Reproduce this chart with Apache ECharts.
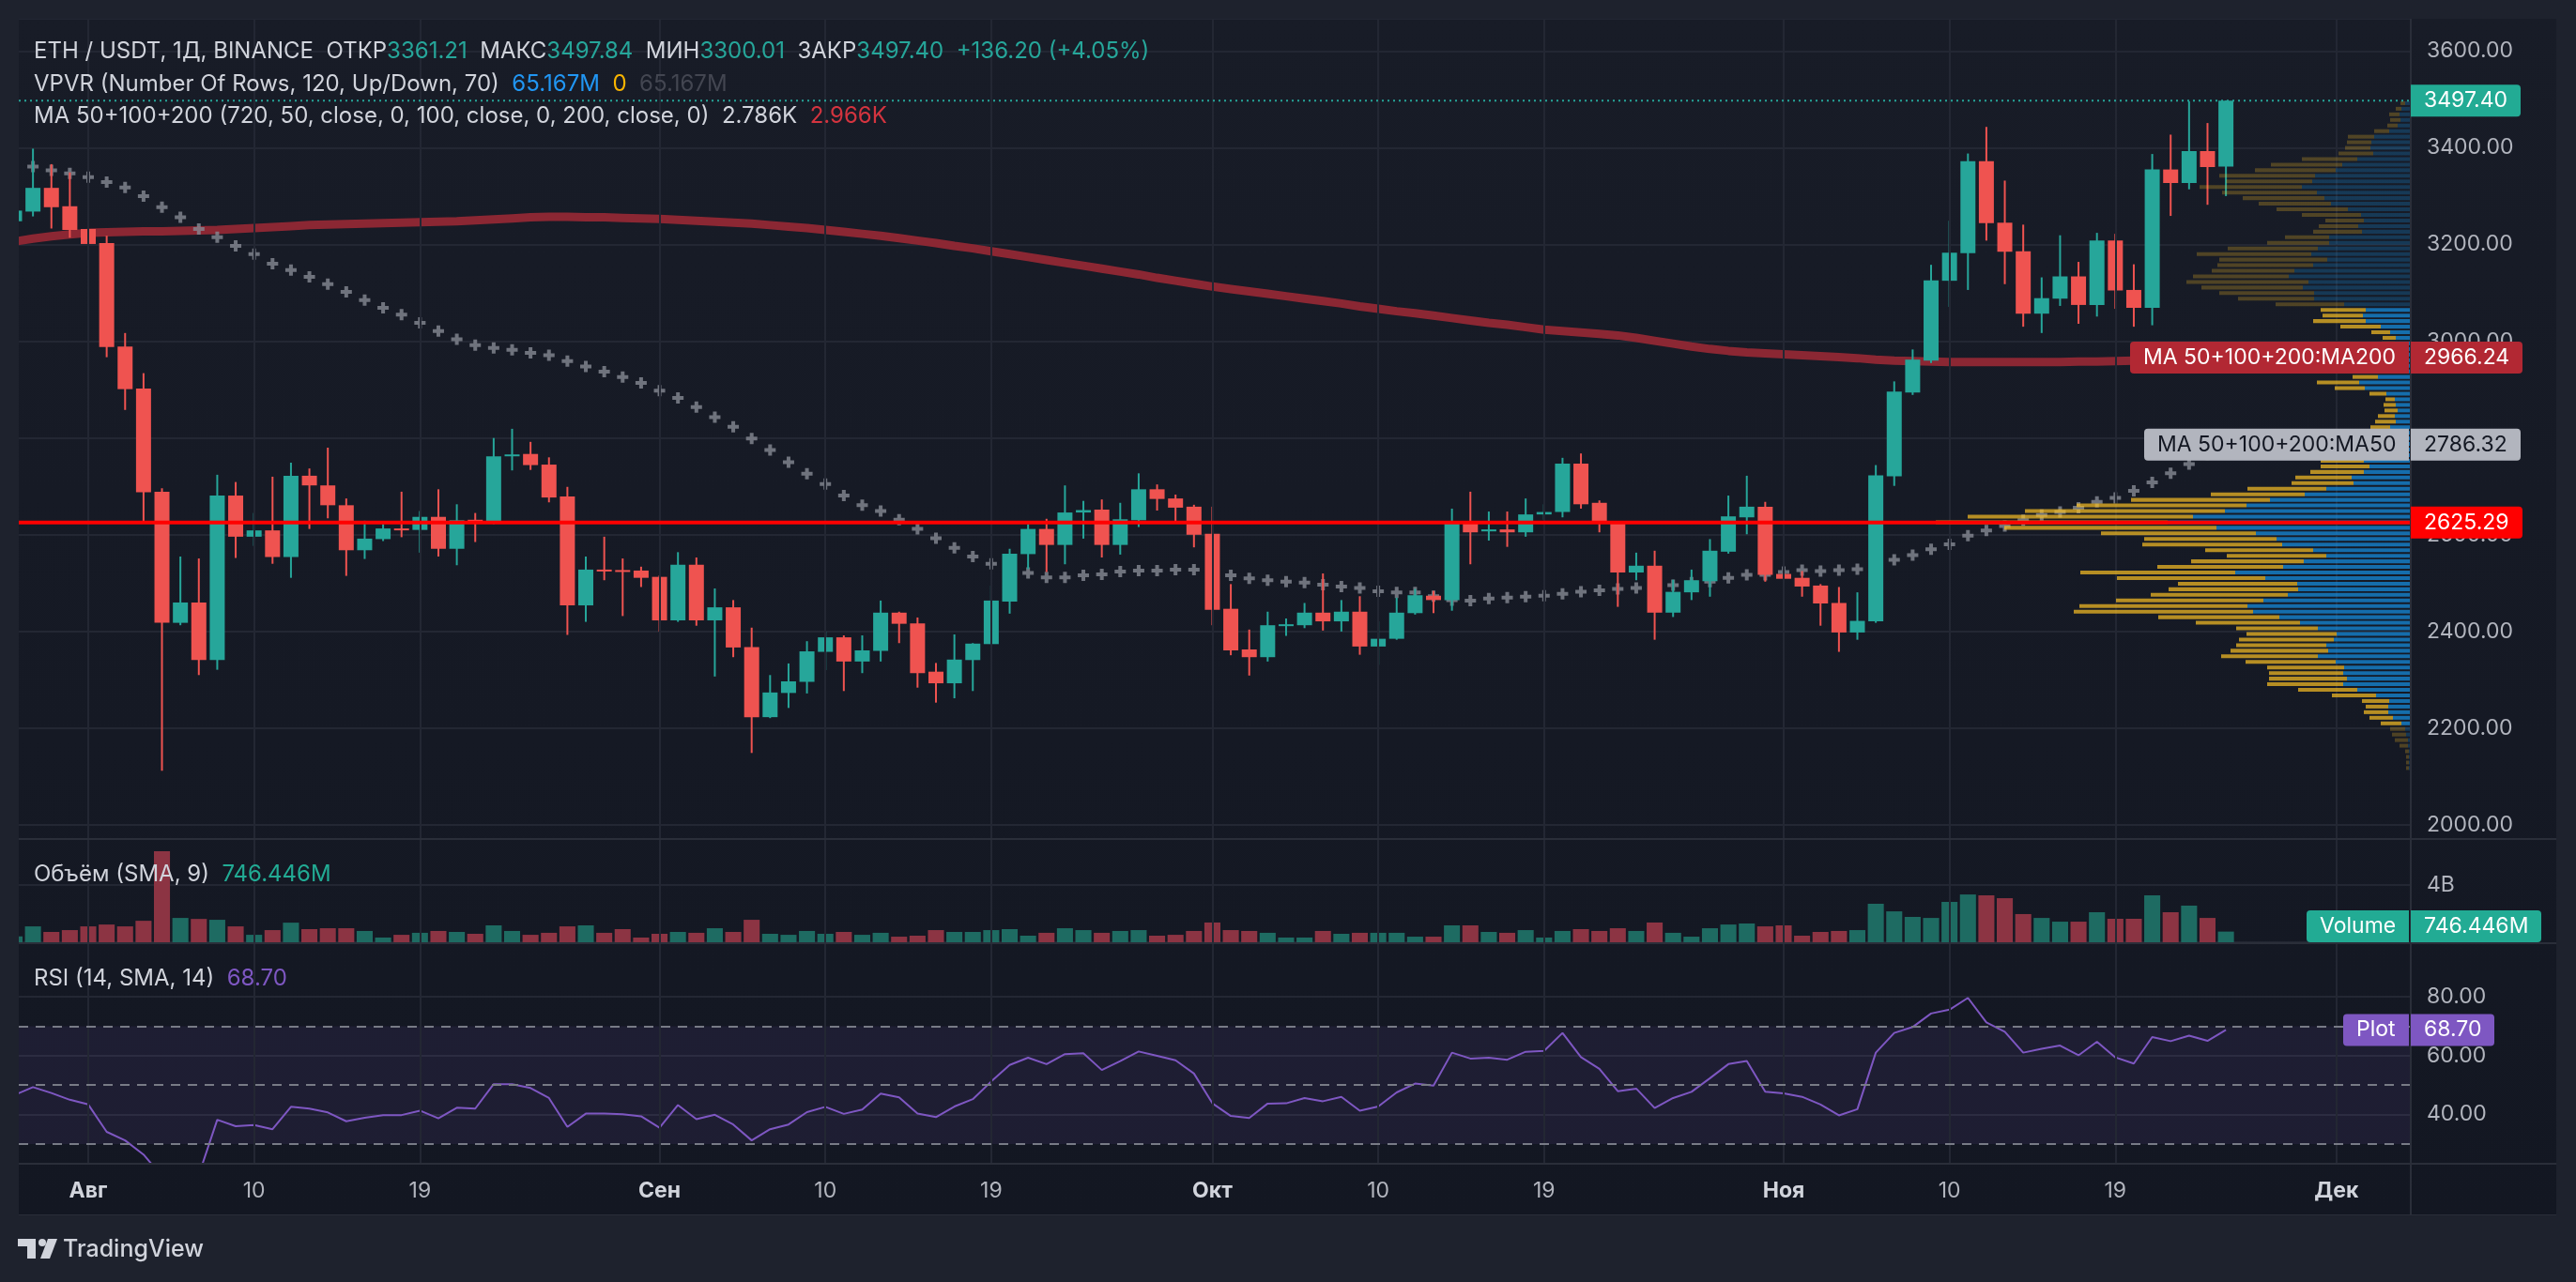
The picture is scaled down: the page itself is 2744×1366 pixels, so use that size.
<!DOCTYPE html>
<html lang="ru">
<head>
  <meta charset="UTF-8">
  <title>ETH / USDT, 1Д, BINANCE</title>
  <script src="https://cdn.jsdelivr.net/npm/echarts@6/dist/echarts.min.js"></script>
  <style>
    * { margin: 0; padding: 0; }
    html, body { width: 2744px; height: 1366px; background: #1e222d; overflow: hidden; }
    #chart { width: 2744px; height: 1366px; }
  </style>
</head>
<body>
<div id="chart"></div>
<script>
  // дни (2024), по одной свече на день
  var dates = [
    '07-28','07-29','07-30','07-31',
    '08-01','08-02','08-03','08-04','08-05','08-06','08-07','08-08','08-09','08-10',
    '08-11','08-12','08-13','08-14','08-15','08-16','08-17','08-18','08-19','08-20',
    '08-21','08-22','08-23','08-24','08-25','08-26','08-27','08-28','08-29','08-30','08-31',
    '09-01','09-02','09-03','09-04','09-05','09-06','09-07','09-08','09-09','09-10',
    '09-11','09-12','09-13','09-14','09-15','09-16','09-17','09-18','09-19','09-20',
    '09-21','09-22','09-23','09-24','09-25','09-26','09-27','09-28','09-29','09-30',
    '10-01','10-02','10-03','10-04','10-05','10-06','10-07','10-08','10-09','10-10',
    '10-11','10-12','10-13','10-14','10-15','10-16','10-17','10-18','10-19','10-20',
    '10-21','10-22','10-23','10-24','10-25','10-26','10-27','10-28','10-29','10-30','10-31',
    '11-01','11-02','11-03','11-04','11-05','11-06','11-07','11-08','11-09','11-10',
    '11-11','11-12','11-13','11-14','11-15','11-16','11-17','11-18','11-19','11-20',
    '11-21','11-22','11-23','11-24','11-25'
  ];
  var opens = [
    3248, 3268, 3317, 3279,
    3232, 3203, 2989, 2902, 2689, 2418, 2460, 2341, 2681, 2596,
    2609, 2554, 2722, 2702, 2661, 2568, 2591, 2613, 2610, 2637,
    2571, 2631, 2628, 2763, 2767, 2745, 2679, 2454, 2528, 2527, 2526,
    2513, 2423, 2538, 2423, 2450, 2368, 2223, 2273, 2296, 2358,
    2388, 2338, 2360, 2439, 2417, 2317, 2293, 2341, 2374, 2462,
    2560, 2612, 2579, 2646, 2652, 2579, 2630, 2694, 2675, 2658,
    2602, 2447, 2363, 2347, 2412, 2413, 2439, 2421, 2441, 2369,
    2385, 2438, 2474, 2465, 2623, 2607, 2611, 2605, 2642, 2647,
    2747, 2666, 2623, 2522, 2536, 2439, 2481, 2504, 2565, 2636, 2658,
    2519, 2511, 2495, 2459, 2398, 2421, 2721, 2894, 2960, 3125,
    3182, 3372, 3245, 3186, 3057, 3088, 3134, 3075, 3208, 3106,
    3069, 3355, 3327, 3393, 3361.21
  ];
  var highs = [
    3285, 3398, 3366, 3349,
    3242, 3218, 3017, 2934, 2696, 2555, 2551, 2724, 2709, 2645,
    2720, 2749, 2737, 2780, 2675, 2629, 2622, 2689, 2649, 2694,
    2663, 2645, 2800, 2819, 2792, 2760, 2699, 2555, 2596, 2551, 2534,
    2516, 2564, 2553, 2489, 2465, 2408, 2310, 2334, 2380, 2400,
    2392, 2392, 2464, 2441, 2429, 2335, 2394, 2376, 2495, 2571,
    2622, 2633, 2702, 2670, 2673, 2666, 2727, 2704, 2683, 2662,
    2658, 2498, 2404, 2441, 2427, 2459, 2520, 2465, 2473, 2421,
    2470, 2488, 2484, 2654, 2689, 2648, 2648, 2675, 2663, 2759,
    2768, 2671, 2626, 2563, 2567, 2507, 2528, 2591, 2681, 2722, 2668,
    2586, 2525, 2498, 2492, 2481, 2744, 2917, 2983, 3158, 3249,
    3388, 3443, 3332, 3241, 3132, 3219, 3164, 3224, 3222, 3159,
    3387, 3427, 3496, 3451, 3497.84
  ];
  var lows = [
    3190, 3258, 3233, 3214,
    3079, 2967, 2858, 2628, 2112, 2413, 2310, 2321, 2552, 2577,
    2540, 2511, 2612, 2634, 2515, 2550, 2587, 2595, 2563, 2555,
    2537, 2585, 2622, 2733, 2734, 2667, 2393, 2420, 2506, 2432, 2492,
    2400, 2420, 2412, 2307, 2347, 2149, 2221, 2242, 2272, 2320,
    2277, 2314, 2338, 2376, 2284, 2253, 2262, 2277, 2373, 2437,
    2529, 2523, 2539, 2592, 2553, 2559, 2616, 2650, 2628, 2574,
    2413, 2351, 2309, 2338, 2391, 2407, 2402, 2400, 2352, 2331,
    2383, 2435, 2438, 2443, 2539, 2588, 2575, 2596, 2631, 2636,
    2654, 2605, 2451, 2506, 2383, 2430, 2465, 2472, 2561, 2601, 2503,
    2469, 2472, 2412, 2358, 2383, 2418, 2701, 2889, 2955, 3071,
    3106, 3208, 3118, 3030, 3017, 3073, 3036, 3051, 3067, 3030,
    3033, 3259, 3314, 3282, 3300.01
  ];
  var closes = [
    3270, 3317, 3277, 3230,
    3201, 2988, 2901, 2688, 2418, 2460, 2341, 2681, 2596, 2609,
    2554, 2722, 2702, 2661, 2568, 2592, 2613, 2611, 2637, 2571,
    2630, 2628, 2762, 2766, 2744, 2677, 2454, 2528, 2525, 2526, 2511,
    2423, 2538, 2423, 2450, 2367, 2223, 2274, 2297, 2359, 2388,
    2338, 2361, 2439, 2416, 2314, 2293, 2342, 2375, 2464, 2561,
    2612, 2579, 2646, 2651, 2579, 2632, 2694, 2674, 2656, 2600,
    2445, 2361, 2347, 2413, 2415, 2439, 2421, 2441, 2369, 2385,
    2439, 2475, 2465, 2623, 2605, 2611, 2605, 2642, 2647, 2747,
    2663, 2623, 2522, 2536, 2439, 2482, 2506, 2567, 2638, 2658, 2517,
    2509, 2493, 2458, 2398, 2422, 2723, 2896, 2962, 3126, 3183,
    3372, 3244, 3185, 3057, 3089, 3134, 3075, 3208, 3105, 3069,
    3355, 3327, 3393, 3360, 3497.40
  ];
  // объём, млрд
  var volumes = [
    0.41, 1.11, 0.72, 0.85,
    1.11, 1.24, 1.11, 1.50, 6.36, 1.70, 1.63, 1.57, 1.11, 0.52,
    0.85, 1.37, 0.92, 0.98, 0.98, 0.79, 0.33, 0.52, 0.66, 0.79,
    0.72, 0.59, 1.18, 0.79, 0.52, 0.66, 1.11, 1.18, 0.66, 0.92, 0.33,
    0.59, 0.72, 0.66, 0.98, 0.72, 1.57, 0.59, 0.52, 0.79, 0.59,
    0.72, 0.52, 0.66, 0.39, 0.46, 0.85, 0.72, 0.72, 0.85, 0.92,
    0.46, 0.66, 0.98, 0.85, 0.66, 0.79, 0.85, 0.46, 0.52, 0.79,
    1.38, 0.85, 0.79, 0.66, 0.33, 0.33, 0.79, 0.59, 0.66, 0.66,
    0.66, 0.39, 0.39, 1.18, 1.18, 0.72, 0.66, 0.85, 0.33, 0.79,
    0.92, 0.79, 0.98, 0.79, 1.38, 0.66, 0.39, 0.98, 1.24, 1.31, 1.11,
    1.18, 0.46, 0.72, 0.79, 0.85, 2.69, 2.16, 1.77, 1.70, 2.82,
    3.34, 3.28, 3.08, 1.97, 1.70, 1.44, 1.44, 2.10, 1.64, 1.64,
    3.28, 2.10, 2.56, 1.70, 0.746446
  ];
  var rsi = [
    46.6, 49.3, 47.3, 45.0,
    43.4, 34.1, 31.2, 26.4, 19.0, 21.5, 19.5, 38.2, 36.0, 36.4,
    35.0, 42.6, 42.0, 40.7, 37.7, 38.9, 39.8, 39.8, 41.3, 38.7,
    42.3, 42.0, 50.3, 50.3, 49.0, 45.6, 35.8, 40.3, 40.3, 40.1, 39.4,
    35.5, 43.2, 38.4, 39.9, 36.6, 31.2, 35.0, 36.6, 40.8, 42.6,
    40.2, 41.7, 47.1, 45.8, 40.3, 39.1, 42.7, 45.2, 51.2, 56.8,
    59.3, 57.1, 60.5, 60.8, 55.1, 58.1, 61.4, 59.9, 58.4, 53.9,
    43.8, 39.5, 38.8, 43.7, 43.8, 45.6, 44.5, 46.0, 41.3, 42.7,
    47.5, 50.5, 49.8, 61.0, 59.0, 59.3, 58.6, 61.3, 61.6, 67.7,
    59.5, 55.5, 47.9, 48.8, 42.2, 45.6, 47.7, 52.3, 57.1, 58.2, 47.7,
    47.2, 46.0, 43.4, 39.7, 41.8, 61.0, 67.7, 69.7, 74.3, 75.6,
    79.6, 71.3, 68.1, 61.0, 62.3, 63.4, 60.1, 64.7, 59.4, 57.3,
    66.3, 64.9, 66.8, 65.0, 68.70
  ];
  var ma50 = [
    3370, 3361, 3353, 3347,
    3339, 3329, 3318, 3300, 3277, 3256, 3232, 3215, 3197, 3180,
    3160, 3147, 3133, 3118, 3102, 3085, 3069, 3055, 3038, 3021,
    3004, 2992, 2986, 2982, 2976, 2971, 2959, 2948, 2937, 2926, 2914,
    2898, 2883, 2864, 2843, 2823, 2799, 2775, 2750, 2726, 2705,
    2681, 2661, 2649, 2631, 2612, 2593, 2573, 2555, 2540, 2530,
    2521, 2512, 2512, 2516, 2518, 2524, 2526, 2526, 2528, 2528,
    2522, 2516, 2510, 2506, 2503, 2501, 2497, 2493, 2490, 2483,
    2481, 2481, 2473, 2465, 2464, 2468, 2470, 2472, 2474, 2478,
    2482, 2485, 2488, 2490, 2492, 2496, 2501, 2503, 2511, 2517, 2517,
    2523, 2527, 2525, 2527, 2529, 2539, 2548, 2558, 2570, 2580,
    2598, 2609, 2618, 2630, 2641, 2647, 2656, 2668, 2676, 2691,
    2708, 2727, 2746, 2766, 2786.32
  ];
  var ma200 = [
    3206, 3212, 3217, 3221,
    3224, 3225, 3226, 3227, 3227, 3228, 3229, 3230, 3232, 3234,
    3236, 3238, 3240, 3241, 3242, 3243, 3244, 3245, 3246, 3247,
    3248, 3250, 3252, 3254, 3256, 3257, 3257, 3256, 3256, 3255, 3254,
    3253, 3251, 3249, 3247, 3245, 3243, 3240, 3237, 3234, 3230,
    3226, 3222, 3218, 3213, 3208, 3203, 3197, 3192, 3186, 3180,
    3174, 3168, 3162, 3156, 3150, 3144, 3138, 3131, 3125, 3119,
    3113, 3108, 3103, 3098, 3093, 3088, 3083, 3078, 3072, 3067,
    3062, 3058, 3053, 3048, 3043, 3038, 3034, 3029, 3024, 3021,
    3018, 3015, 3012, 3007, 3001, 2995, 2989, 2984, 2980, 2977, 2975,
    2973, 2971, 2969, 2967, 2965, 2962, 2960, 2959, 2958, 2957,
    2957, 2957, 2957, 2957, 2957, 2957, 2958, 2958, 2959, 2960,
    2961, 2962, 2964, 2965, 2966.24
  ];
  // VPVR: 120 строк снизу вверх, жёлтая и синяя части
  var vpYellow = [
    3, 3, 3, 4, 9, 14, 15, 16, 22, 25,
    26, 24, 29, 47, 63, 81, 83, 79, 82, 96,
    103, 104, 96, 101, 96, 87, 111, 129, 191, 179,
    157, 146, 138, 127, 158, 165, 134, 120, 106, 115,
    149, 141, 165, 226, 247, 240, 213, 181, 148, 100,
    84, 66, 60, 57, 52, 46, 44, 40, 34, 30,
    25, 21, 22, 18, 14, 13, 10, 18, 32, 45,
    27, 20, 15, 12, 12, 12, 14, 14, 20, 43,
    56, 43, 48, 73, 81, 101, 108, 130, 102, 88,
    102, 115, 122, 96, 66, 47, 52, 42, 41, 63,
    76, 77, 87, 101, 109, 92, 102, 86, 76, 59,
    37, 27, 26, 28, 16, 11, 11, 11, 6, 5
  ];
  var vpBlue = [
    2, 2, 2, 2, 3, 3, 5, 6, 10, 19,
    24, 24, 23, 37, 57, 72, 68, 72, 71, 80,
    99, 88, 90, 82, 79, 99, 118, 140, 168, 174,
    157, 131, 120, 121, 155, 187, 136, 114, 90, 104,
    137, 143, 165, 207, 259, 232, 198, 175, 150, 113,
    90, 61, 63, 50, 44, 50, 46, 40, 36, 28,
    24, 22, 16, 17, 14, 16, 17, 26, 49, 55,
    35, 22, 15, 14, 13, 12, 17, 16, 22, 32,
    48, 51, 48, 71, 103, 103, 115, 109, 130, 124,
    104, 89, 106, 99, 87, 87, 52, 56, 50, 53,
    67, 85, 92, 100, 116, 105, 102, 80, 73, 57,
    40, 43, 42, 39, 23, 14, 11, 12, 10, 6
  ];
  var valueAreaRows = [8, 82];
  var pocPrice = 2625.29;

  var tickDates = ['08-01','08-10','08-19','09-01','09-10','09-19','10-01','10-10','10-19','11-01','11-10','11-19','12-01'];
  var tickText  = ['Авг','10','19','Сен','10','19','Окт','10','19','Ноя','10','19','Дек'];
  var monthTicks = ['Авг','Сен','Окт','Ноя','Дек'];

  var UP = '#26a69a', DOWN = '#ef5350';
  var VOL_UP = '#1e6b62', VOL_DOWN = '#8c3443';
  var GRID = '#232733', SEP = '#2a2e39';
  var TXT = '#d1d4dc', AXIS_TXT = '#b2b5be';
  var FONT = 'Inter, Roboto, sans-serif';
  var FS = 23;      // шкалы и плашки
  var LFS = 24;     // легенды

  // видимое окно (дни от 1 авг.) и цены
  var X_MIN = -3.77, X_MAX = 126.03;
  var Y_MIN = 1971.1, Y_MAX = 3666.5;

  function dayNum(s) {
    var p = s.split('-');
    return (Date.UTC(2024, +p[0] - 1, +p[1]) - Date.UTC(2024, 7, 1)) / 86400000;
  }
  var xs = dates.map(dayNum);
  var tickDays = tickDates.map(dayNum);
  var last = closes.length - 1;

  var vpLow = Math.min.apply(null, lows), vpHigh = Math.max.apply(null, highs);
  var vpStep = (vpHigh - vpLow) / vpYellow.length;

  var candleData = xs.map(function (x, i) { return [x, opens[i], closes[i], lows[i], highs[i]]; });
  var volData = xs.map(function (x, i) { return [x, volumes[i], closes[i] >= opens[i] ? 1 : 0]; });
  var rsiData = xs.map(function (x, i) { return [x, rsi[i]]; });
  var ma50Data = xs.map(function (x, i) { return [x, ma50[i]]; });
  var ma200Data = xs.map(function (x, i) { return [x, ma200[i]]; });
  var vpData = vpYellow.map(function (v, k) { return [k, v, vpBlue[k]]; });

  function renderCandle(params, api) {
    var x = api.value(0), o = api.value(1), c = api.value(2), l = api.value(3), h = api.value(4);
    var pO = api.coord([x, o]), pC = api.coord([x, c]);
    var pL = api.coord([x, l]), pH = api.coord([x, h]);
    var w = api.size([1, 0])[0] * 0.815;
    var color = c >= o ? UP : DOWN;
    var top = Math.min(pO[1], pC[1]), bot = Math.max(pO[1], pC[1]);
    return {
      type: 'group',
      children: [
        { type: 'rect', shape: { x: pO[0] - 1, y: pH[1], width: 2, height: pL[1] - pH[1] }, style: { fill: color } },
        { type: 'rect', shape: { x: pO[0] - w / 2, y: top, width: w, height: Math.max(bot - top, 2) }, style: { fill: color } }
      ]
    };
  }

  function renderVol(params, api) {
    var x = api.value(0), v = api.value(1), up = api.value(2);
    var p0 = api.coord([x, 0]), p1 = api.coord([x, v]);
    var w = api.size([1, 0])[0] * 0.87;
    return { type: 'rect', shape: { x: p0[0] - w / 2, y: p1[1], width: w, height: p0[1] - p1[1] },
             style: { fill: up ? VOL_UP : VOL_DOWN } };
  }

  function renderProfile(params, api) {
    var k = api.value(0), yel = api.value(1), blu = api.value(2);
    var lo = vpLow + k * vpStep;
    var pLo = api.coord([0, lo]), pHi = api.coord([0, lo + vpStep]);
    var h = (pLo[1] - pHi[1]) * 0.68;
    var yc = (pLo[1] + pHi[1]) / 2;
    var x0 = pLo[0];
    var xb = api.coord([blu, lo])[0];
    var xy = api.coord([blu + yel, lo])[0];
    var bright = k >= valueAreaRows[0] && k <= valueAreaRows[1];
    return {
      type: 'group',
      children: [
        { type: 'rect', shape: { x: xb, y: yc - h / 2, width: x0 - xb, height: h },
          style: { fill: bright ? 'rgba(21,146,230,0.7)' : 'rgba(21,146,230,0.25)' } },
        { type: 'rect', shape: { x: xy, y: yc - h / 2, width: xb - xy, height: h },
          style: { fill: bright ? 'rgba(251,193,35,0.7)' : 'rgba(251,193,35,0.25)' } }
      ]
    };
  }

  function vLines() {
    return {
      silent: true, symbol: ['none', 'none'], animation: false,
      label: { show: false },
      lineStyle: { color: GRID, width: 2, type: 'solid' },
      data: tickDays.map(function (d) { return { xAxis: d }; })
    };
  }

  function xAx(gi, extra) {
    return Object.assign({
      type: 'value', gridIndex: gi, min: X_MIN, max: X_MAX, show: false,
      splitLine: { show: false }
    }, extra || {});
  }

  var chart = echarts.init(document.getElementById('chart'));
  chart.setOption({
    animation: false,
    backgroundColor: '#1e222d',
    grid: [
      { left: 20, top: 20, width: 2548, height: 874 },
      { left: 20, top: 894, width: 2548, height: 110 },
      { left: 20, top: 1005, width: 2548, height: 235 },
      { left: 20, top: 20, width: 2548, height: 874 }
    ],
    xAxis: [
      xAx(0),
      xAx(1),
      xAx(2, {
        show: true,
        axisLine: { show: false },
        axisTick: { show: false },
        axisLabel: {
          customValues: tickDays,
          margin: 18,
          color: AXIS_TXT,
          fontSize: FS,
          fontFamily: FONT,
          formatter: function (v) {
            var i = tickDays.indexOf(v);
            var t = i >= 0 ? tickText[i] : '';
            return monthTicks.indexOf(t) >= 0 ? '{m|' + t + '}' : t;
          },
          rich: { m: { color: TXT, fontSize: FS, fontWeight: 'bold', fontFamily: FONT } }
        }
      }),
      { type: 'value', gridIndex: 3, min: 0, max: 2548, inverse: true, show: false }
    ],
    yAxis: [
      {
        type: 'value', gridIndex: 0, position: 'right', min: Y_MIN, max: Y_MAX,
        minInterval: 200, maxInterval: 200, splitNumber: 8,
        axisLine: { show: false }, axisTick: { show: false },
        axisLabel: { color: AXIS_TXT, fontSize: FS, fontFamily: FONT, margin: 17,
          showMinLabel: false, showMaxLabel: false,
          formatter: function (v) { return v.toFixed(2); } },
        splitLine: { lineStyle: { color: GRID, width: 2 } }
      },
      {
        type: 'value', gridIndex: 1, position: 'right', min: 0, max: 7.213, interval: 4,
        axisLine: { show: false }, axisTick: { show: false },
        axisLabel: { color: AXIS_TXT, fontSize: FS, fontFamily: FONT, margin: 17,
          showMinLabel: false, showMaxLabel: false,
          formatter: function (v) { return v === 4 ? '4B' : ''; } },
        splitLine: { lineStyle: { color: GRID, width: 2 } }
      },
      {
        type: 'value', gridIndex: 2, position: 'right', min: 23.27, max: 98.17,
        minInterval: 20, maxInterval: 20,
        axisLine: { show: false }, axisTick: { show: false },
        axisLabel: { color: AXIS_TXT, fontSize: FS, fontFamily: FONT, margin: 17,
          showMinLabel: false, showMaxLabel: false,
          formatter: function (v) { return v.toFixed(2); } },
        splitLine: { lineStyle: { color: GRID, width: 2 } }
      },
      { type: 'value', gridIndex: 3, min: Y_MIN, max: Y_MAX, show: false, splitLine: { show: false } }
    ],
    series: [
      { name: 'gridMain', type: 'line', xAxisIndex: 0, yAxisIndex: 0, data: [], z: 1, markLine: vLines() },
      { name: 'gridVol', type: 'line', xAxisIndex: 1, yAxisIndex: 1, data: [], z: 1, markLine: vLines() },
      { name: 'gridRsi', type: 'line', xAxisIndex: 2, yAxisIndex: 2, data: [], z: 1, markLine: vLines() },
      {
        name: 'MA200', type: 'line', xAxisIndex: 0, yAxisIndex: 0, data: ma200Data, z: 2,
        showSymbol: false, lineStyle: { color: '#8b2733', width: 9 }
      },
      {
        name: 'MA50', type: 'scatter', xAxisIndex: 0, yAxisIndex: 0, data: ma50Data, z: 3,
        symbol: 'path://M4 0H8V4H12V8H8V12H4V8H0V4H4Z', symbolSize: 12,
        itemStyle: { color: '#868994' }
      },
      {
        name: 'ETH', type: 'custom', xAxisIndex: 0, yAxisIndex: 0, data: candleData, z: 4,
        renderItem: renderCandle, encode: { x: 0, y: [1, 2, 3, 4] }, clip: true
      },
      {
        name: 'VPVR', type: 'custom', xAxisIndex: 3, yAxisIndex: 3, data: vpData, z: 5,
        renderItem: renderProfile, encode: { x: [1, 2], y: 0 }, silent: true
      },
      {
        name: 'last', type: 'line', xAxisIndex: 0, yAxisIndex: 0, z: 6, showSymbol: false,
        data: [[X_MIN, closes[last]], [X_MAX, closes[last]]],
        lineStyle: { color: UP, width: 2, type: [2, 4] }
      },
      {
        name: 'POC', type: 'line', xAxisIndex: 0, yAxisIndex: 0, z: 7, showSymbol: false,
        data: [[X_MIN, pocPrice], [X_MAX, pocPrice]],
        lineStyle: { color: '#ff0000', width: 4 }
      },
      {
        name: 'Volume', type: 'custom', xAxisIndex: 1, yAxisIndex: 1, data: volData, z: 4,
        renderItem: renderVol, encode: { x: 0, y: 1 }, clip: true
      },
      {
        name: 'RSI', type: 'line', xAxisIndex: 2, yAxisIndex: 2, data: rsiData, z: 4,
        showSymbol: false, lineStyle: { color: '#7e57c2', width: 2 },
        markArea: { silent: true, itemStyle: { color: 'rgba(126,87,194,0.1)' },
          data: [[{ yAxis: 30 }, { yAxis: 70 }]] },
        markLine: { silent: true, symbol: ['none', 'none'], label: { show: false },
          lineStyle: { color: '#787b86', width: 2, type: [10, 8] },
          data: [{ yAxis: 70 }, { yAxis: 50 }, { yAxis: 30 }] }
      }
    ]
  });

  // подписи на шкале и рамка
  var ctx = document.createElement('canvas').getContext('2d');
  function textW(t) { ctx.font = FS + 'px ' + FONT; return ctx.measureText(t).width; }

  function valueBox(y, text, bg, fg) {
    var w = Math.round(textW(text) + 28);
    return [
      { type: 'rect', z: 60, shape: { x: 2568, y: y - 17, width: w, height: 34, r: [0, 4, 4, 0] }, style: { fill: bg } },
      { type: 'text', z: 61, x: 2582, y: y, style: { text: text, fill: fg, font: FS + 'px ' + FONT, verticalAlign: 'middle' } }
    ];
  }
  function nameBox(y, text, bg, fg) {
    var w = Math.round(textW(text) + 28);
    return [
      { type: 'rect', z: 60, shape: { x: 2566 - w, y: y - 17, width: w, height: 34, r: [4, 0, 0, 4] }, style: { fill: bg } },
      { type: 'text', z: 61, x: 2566 - w + 14, y: y, style: { text: text, fill: fg, font: FS + 'px ' + FONT, verticalAlign: 'middle' } }
    ];
  }
  function py(v) { return chart.convertToPixel({ yAxisIndex: 0 }, v); }

  var g = [];
  g.push({ type: 'rect', z: -100, shape: { x: 20, y: 20, width: 2703, height: 1275 },
    style: { fill: new echarts.graphic.LinearGradient(0, 0, 0, 1, [
      { offset: 0, color: '#181c27' }, { offset: 1, color: '#131722' }]) } });

  // рамка поверх выходящих за край свечей
  [[0, 0, 2744, 20], [0, 0, 20, 1366], [2723, 0, 21, 1366], [0, 1295, 2744, 71]].forEach(function (r) {
    g.push({ type: 'rect', z: 100, shape: { x: r[0], y: r[1], width: r[2], height: r[3] }, style: { fill: '#1e222d' } });
  });
  [[20, 894, 2723, 894], [20, 1005, 2723, 1005], [20, 1240, 2723, 1240], [2568, 20, 2568, 1295], [20, 1295, 2723, 1295]].forEach(function (l) {
    g.push({ type: 'line', z: 50, shape: { x1: l[0], y1: l[1], x2: l[2], y2: l[3] }, style: { stroke: SEP, lineWidth: 2 } });
  });

  g = g.concat(valueBox(py(closes[last]), closes[last].toFixed(2), '#22ab94', '#ffffff'));
  g = g.concat(nameBox(py(ma200[last]), 'MA 50+100+200:MA200', '#b22833', '#ffffff'));
  g = g.concat(valueBox(py(ma200[last]), ma200[last].toFixed(2), '#b22833', '#ffffff'));
  g = g.concat(nameBox(py(ma50[last]), 'MA 50+100+200:MA50', '#b2b5be', '#131722'));
  g = g.concat(valueBox(py(ma50[last]), ma50[last].toFixed(2), '#b2b5be', '#131722'));
  g = g.concat(valueBox(py(pocPrice), pocPrice.toFixed(2), '#ff0000', '#ffffff'));

  var volText = (volumes[last] * 1000).toFixed(3) + 'M';
  var yVol = Math.min(chart.convertToPixel({ yAxisIndex: 1 }, volumes[last]), 1004 - 17);
  g = g.concat(nameBox(yVol, 'Volume', '#22ab94', '#ffffff'));
  g = g.concat(valueBox(yVol, volText, '#22ab94', '#ffffff'));
  var yRsi = chart.convertToPixel({ yAxisIndex: 2 }, rsi[last]);
  g = g.concat(nameBox(yRsi, 'Plot', '#7e57c2', '#ffffff'));
  g = g.concat(valueBox(yRsi, rsi[last].toFixed(2), '#7e57c2', '#ffffff'));

  // легенды
  function rich(extra) {
    var r = { t: { fill: TXT, font: LFS + 'px ' + FONT } };
    Object.keys(extra).forEach(function (k) { r[k] = { fill: extra[k], font: LFS + 'px ' + FONT }; });
    return r;
  }
  function legend(y, text, colors) {
    return { type: 'text', z: 62, x: 36, y: y,
      style: { text: text, rich: rich(colors), fill: TXT, font: LFS + 'px ' + FONT, verticalAlign: 'middle' } };
  }
  g.push(legend(55,
    '{t|ETH / USDT, 1Д, BINANCE}  {t|ОТКР}{g|' + opens[last].toFixed(2) + '}  {t|МАКС}{g|' + highs[last].toFixed(2) +
    '}  {t|МИН}{g|' + lows[last].toFixed(2) + '}  {t|ЗАКР}{g|' + closes[last].toFixed(2) + '}  {g|+136.20 (+4.05%)}',
    { g: UP }));
  g.push(legend(90, '{t|VPVR (Number Of Rows, 120, Up/Down, 70)}  {b|65.167M}  {y|0}  {d|65.167M}',
    { b: '#2196f3', y: '#f9b400', d: '#434651' }));
  g.push(legend(124, '{t|MA 50+100+200 (720, 50, close, 0, 100, close, 0, 200, close, 0)}  {t|2.786K}  {r|2.966K}',
    { r: '#d3343f' }));
  g.push(legend(932, '{t|Объём (SMA, 9)}  {g|' + volText + '}', { g: '#22ab94' }));
  g.push(legend(1043, '{t|RSI (14, SMA, 14)}  {p|' + rsi[last].toFixed(2) + '}', { p: '#7e57c2' }));

  // логотип TradingView
  g.push({ type: 'polygon', z: 101, shape: { points: [[19, 1320], [38, 1320], [38, 1341], [29, 1341], [29, 1328], [19, 1328]] }, style: { fill: TXT } });
  g.push({ type: 'circle', z: 101, shape: { cx: 45, cy: 1324, r: 4 }, style: { fill: TXT } });
  g.push({ type: 'polygon', z: 101, shape: { points: [[51, 1320], [61, 1320], [53, 1341], [43, 1341]] }, style: { fill: TXT } });
  g.push({ type: 'text', z: 101, x: 67, y: 1331, style: { text: 'TradingView', fill: TXT, font: '500 25px ' + FONT, verticalAlign: 'middle' } });

  chart.setOption({ graphic: g });
</script>
</body>
</html>
